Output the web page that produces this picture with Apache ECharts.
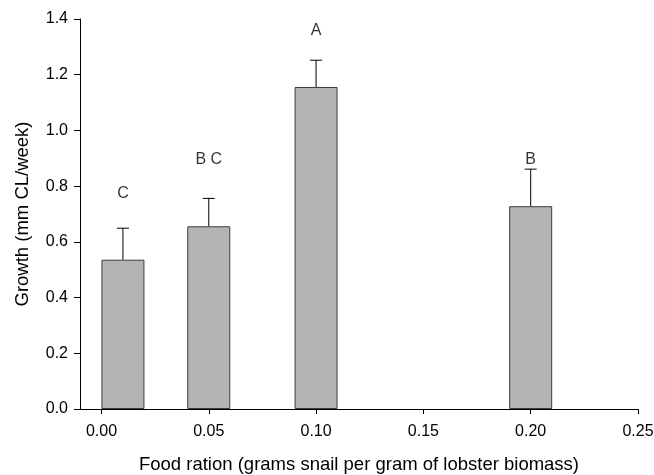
<!DOCTYPE html>
<html>
<head>
<meta charset="utf-8">
<script src="https://cdn.jsdelivr.net/npm/echarts@6/dist/echarts.min.js"></script>
<style>
  html, body { margin: 0; padding: 0; background: #fff; }
  #chart { width: 654px; height: 475px; }
</style>
</head>
<body>
<div id="chart"></div>
<script>
// ========== 数据 ==========
const rations = [0.01, 0.05, 0.10, 0.20];
const growth = [0.536, 0.656, 1.156, 0.728];
const stdErr = [0.113, 0.100, 0.096, 0.133];
const groupLetters = ['C', 'B C', 'A', 'B'];
const letterY = [0.775, 0.895, 1.36, 0.895];
const xTicks = [0, 0.05, 0.10, 0.15, 0.20, 0.25];

const FONT = 'Liberation Sans';

const chart = echarts.init(document.getElementById('chart'));

chart.setOption({
    animation: false,
    grid: { left: 80, right: 16, top: 19, bottom: 66, outerBoundsMode: 'none', containLabel: false },
    xAxis: {
        type: 'value',
        min: -0.01,
        max: 0.25,
        splitLine: { show: false },
        axisLine: { show: true, onZero: false, lineStyle: { color: '#000', width: 1 } },
        axisTick: { show: true, length: 5, customValues: xTicks, lineStyle: { color: '#000' } },
        axisLabel: {
            customValues: xTicks,
            formatter: v => v.toFixed(2),
            color: '#000', fontFamily: FONT, fontSize: 16, margin: 15
        },
        name: 'Food ration (grams snail per gram of lobster biomass)',
        nameLocation: 'middle',
        nameGap: 46,
        nameTextStyle: { color: '#000', fontFamily: FONT, fontSize: 18.5 }
    },
    yAxis: {
        type: 'value',
        min: 0,
        max: 1.4,
        interval: 0.2,
        splitLine: { show: false },
        axisLine: { show: true, onZero: false, lineStyle: { color: '#000', width: 1 } },
        axisTick: { show: true, length: 6, lineStyle: { color: '#000' } },
        axisLabel: {
            formatter: v => v.toFixed(1),
            color: '#000', fontFamily: FONT, fontSize: 16, margin: 12
        },
        name: 'Growth (mm CL/week)',
        nameLocation: 'middle',
        nameGap: 48,
        nameTextStyle: { color: '#000', fontFamily: FONT, fontSize: 18.5 }
    },
    series: [
        {
            type: 'bar',
            barWidth: 43,
            data: rations.map((x, i) => [x, growth[i]]),
            itemStyle: { color: '#b4b4b4', borderColor: '#3c3c3c', borderWidth: 1 }
        },
        {
            type: 'custom',
            data: rations.map((x, i) => [x, growth[i], stdErr[i]]),
            renderItem: (params, api) => {
                const x = api.value(0);
                const top = api.coord([x, api.value(1) + api.value(2)]);
                const base = api.coord([x, api.value(1)]);
                const style = { stroke: '#000', lineWidth: 1 };
                return {
                    type: 'group',
                    children: [
                        { type: 'line', shape: { x1: base[0], y1: base[1], x2: top[0], y2: top[1] }, style },
                        { type: 'line', shape: { x1: top[0] - 6, y1: top[1], x2: top[0] + 6, y2: top[1] }, style }
                    ]
                };
            },
            z: 3
        },
        {
            type: 'scatter',
            symbolSize: 0,
            data: rations.map((x, i) => ({ value: [x, letterY[i]], name: groupLetters[i] })),
            label: {
                show: true,
                position: 'inside',
                formatter: p => p.name,
                color: '#000',
                fontFamily: FONT,
                fontSize: 16
            }
        }
    ]
});
</script>
</body>
</html>
